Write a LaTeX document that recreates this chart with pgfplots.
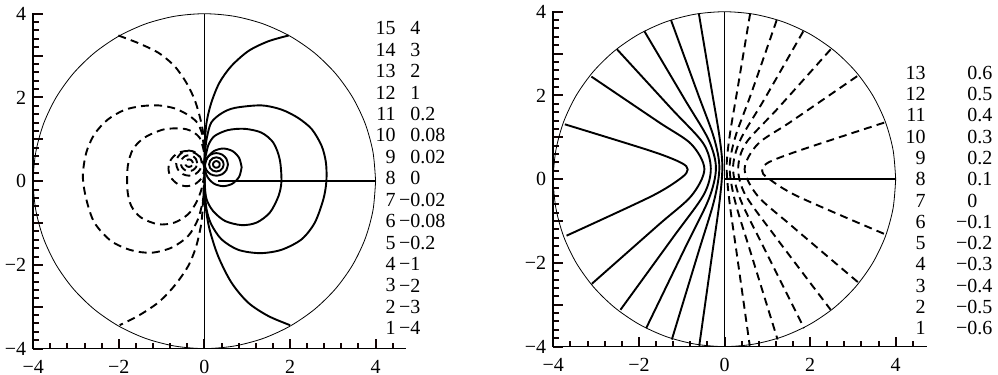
\documentclass[border=0pt]{standalone}
\usepackage{fontspec}
\setmainfont{Liberation Serif}
\usepackage{pgfplots}
\pgfplotsset{compat=1.18}
\definecolor{tickc}{rgb}{0.08,0.02,0.02}
\pgfplotsset{
 myaxis/.style={
  x=21.4pt, y=20.93pt,
  xmin=-4, xmax=4.7, ymin=-4, ymax=4,
  axis line style={draw=none},
  xtick={-4,-2,0,2,4}, ytick={-4,-2,0,2,4},
  xticklabels={−4,−2,0,2,4}, yticklabels={−4,−2,0,2,4},
  minor xtick={-3.6,-3.2,-2.8,-2.4,-1.6,-1.2,-0.8,-0.4,0.4,0.8,1.2,1.6,2.4,2.8,3.2,3.6,4.4},
  minor ytick={-3.8,-3.6,-3.4,-3.2,-2.8,-2.6,-2.4,-2.2,-1.8,-1.6,-1.4,-1.2,-0.8,-0.6,-0.4,-0.2,0.2,0.4,0.6,0.8,1.2,1.4,1.6,1.8,2.2,2.4,2.6,2.8,3.2,3.4,3.6,3.8},
  xtick pos=left, ytick pos=left,
  tick align=inside,
  major tick length=5pt, minor tick length=2.8pt,
  xtick style={draw=tickc, line width=1.0pt},
  ytick style={draw=tickc, line width=1.0pt},
  extra y ticks={-3,-1,1,3}, extra y tick labels={},
  tick label style={font=\fontsize{10}{12}\selectfont},
  xticklabel style={yshift=-2.2pt},
  clip=false,
  anchor=south west,
 },
 sol/.style={black, line width=0.95pt, smooth},
 das/.style={black, line width=0.95pt, smooth, dash pattern=on 4pt off 2.6pt},
 thinc/.style={black, line width=0.4pt, smooth},
 straight/.style={black, line width=0.7pt},
}
\begin{document}
\fontsize{10}{12}\selectfont
\begin{tikzpicture}
%%%%%%%%%%%%%%%%%%%%%%%%%% LEFT
\begin{axis}[myaxis, at={(16.6pt,13.2pt)}]
\draw[black, line width=0.9pt, line cap=rect] (axis cs:-4,4) -- (axis cs:-4,-4) -- (axis cs:4.7,-4);
\addplot[thinc] coordinates {(4,0) (3.939,0.695) (3.759,1.368) (3.464,2) (3.064,2.571) (2.571,3.064) (2,3.464) (1.368,3.759) (0.695,3.939) (0,4) (-0.695,3.939) (-1.368,3.759) (-2,3.464) (-2.571,3.064) (-3.064,2.571) (-3.464,2) (-3.759,1.368) (-3.939,0.695) (-4,0) (-3.939,-0.695) (-3.759,-1.368) (-3.464,-2) (-3.064,-2.571) (-2.571,-3.064) (-2,-3.464) (-1.368,-3.759) (-0.695,-3.939) (0,-4) (0.695,-3.939) (1.368,-3.759) (2,-3.464) (2.571,-3.064) (3.064,-2.571) (3.464,-2) (3.759,-1.368) (3.939,-0.695) (4,0)};
\addplot[straight, line width=0.85pt] coordinates {(0,-4) (0,4)};
\addplot[straight] coordinates {(0.32,0) (4,0)};
% solid contours
\addplot[sol] coordinates {(1.97,3.48) (1.49,3.34) (1.03,3.11) (0.63,2.75) (0.35,2.35) (0.16,1.87) (0.05,1.40) (0.01,0.9) (0,0.45)};
\addplot[sol] coordinates {(0,0.3) (0.005,-0.2) (0.03,-0.62) (0.12,-1.15) (0.32,-1.79) (0.63,-2.42) (1.02,-2.90) (1.49,-3.22) (2.0,-3.44)};
\addplot[sol] coordinates {(0,0.45) (0.02,0.75) (0.06,1.05) (0.16,1.40) (0.40,1.62) (0.71,1.75) (1.33,1.81) (1.80,1.71) (2.19,1.51) (2.51,1.24) (2.74,0.84) (2.84,0.44) (2.85,0.0) (2.78,-0.43) (2.58,-0.99) (2.27,-1.39) (1.80,-1.64) (1.30,-1.72) (0.79,-1.64) (0.40,-1.39) (0.16,-1.03) (0.05,-0.67) (0.01,-0.2) (0,0.3)};
\addplot[sol] coordinates {(0,0.45) (0.04,0.65) (0.10,0.88) (0.24,1.08) (0.55,1.22) (0.94,1.25) (1.33,1.16) (1.61,0.92) (1.76,0.52) (1.80,0.0) (1.73,-0.36) (1.53,-0.75) (1.22,-0.99) (0.87,-1.05) (0.48,-0.95) (0.20,-0.71) (0.05,-0.43) (0.01,-0.1) (0,0.3)};
\addplot[sol] coordinates {(0.87,0.33) (0.812,0.555) (0.655,0.72) (0.44,0.78) (0.225,0.72) (0.068,0.555) (0.01,0.33) (0.068,0.105) (0.225,-0.06) (0.44,-0.12) (0.655,-0.06) (0.812,0.105) (0.87,0.33)};
\addplot[sol] coordinates {(0.55,0.40) (0.514,0.535) (0.415,0.634) (0.28,0.67) (0.145,0.634) (0.046,0.535) (0.01,0.40) (0.046,0.265) (0.145,0.166) (0.28,0.13) (0.415,0.166) (0.514,0.265) (0.55,0.40)};
\addplot[sol] coordinates {(0.45,0.40) (0.427,0.485) (0.365,0.547) (0.28,0.57) (0.195,0.547) (0.133,0.485) (0.11,0.40) (0.133,0.315) (0.195,0.253) (0.28,0.23) (0.365,0.253) (0.427,0.315) (0.45,0.40)};
\addplot[sol] coordinates {(0.36,0.40) (0.349,0.44) (0.32,0.469) (0.28,0.48) (0.24,0.469) (0.211,0.44) (0.20,0.40) (0.211,0.36) (0.24,0.331) (0.28,0.32) (0.32,0.331) (0.349,0.36) (0.36,0.40)};
% dashed contours
\addplot[das] coordinates {(-2.01,3.48) (-1.55,3.30) (-1.08,3.07) (-0.70,2.75) (-0.42,2.35) (-0.23,1.95) (-0.11,1.55) (-0.03,1.16) (-0.01,0.8)};
\addplot[das] coordinates {(-0.01,-0.1) (-0.03,-0.43) (-0.07,-0.99) (-0.19,-1.55) (-0.38,-2.03) (-0.70,-2.50) (-1.08,-2.90) (-1.55,-3.22) (-1.98,-3.44)};
\addplot[das] coordinates {(-0.01,0.8) (-0.06,1.15) (-0.17,1.40) (-0.38,1.58) (-0.70,1.74) (-1.08,1.81) (-1.48,1.79) (-1.87,1.70) (-2.26,1.47) (-2.57,1.12) (-2.76,0.68) (-2.84,0.12) (-2.76,-0.43) (-2.57,-0.99) (-2.18,-1.43) (-1.71,-1.65) (-1.24,-1.71) (-0.77,-1.59) (-0.38,-1.31) (-0.15,-0.91) (-0.03,-0.43) (-0.01,-0.1)};
\addplot[das] coordinates {(-0.01,0.7) (-0.12,1.05) (-0.42,1.24) (-0.93,1.24) (-1.40,1.04) (-1.67,0.76) (-1.79,0.36) (-1.80,-0.20) (-1.71,-0.59) (-1.48,-0.87) (-1.08,-1.03) (-0.70,-0.99) (-0.38,-0.79) (-0.19,-0.51) (-0.07,-0.2) (-0.01,0.1)};
\addplot[das] coordinates {(0.0,0.30) (-0.056,0.51) (-0.21,0.664) (-0.42,0.72) (-0.63,0.664) (-0.784,0.51) (-0.84,0.30) (-0.784,0.09) (-0.63,-0.064) (-0.42,-0.12) (-0.21,-0.064) (-0.056,0.09) (0.0,0.30)};
\addplot[das] coordinates {(-0.06,0.43) (-0.10,0.58) (-0.21,0.69) (-0.36,0.73) (-0.51,0.69) (-0.62,0.58) (-0.66,0.43) (-0.62,0.28) (-0.51,0.17) (-0.36,0.13) (-0.21,0.17) (-0.10,0.28) (-0.06,0.43)};
\addplot[das] coordinates {(-0.17,0.43) (-0.195,0.525) (-0.265,0.595) (-0.36,0.62) (-0.455,0.595) (-0.525,0.525) (-0.55,0.43) (-0.525,0.335) (-0.455,0.265) (-0.36,0.24) (-0.265,0.265) (-0.195,0.335) (-0.17,0.43)};
\addplot[das] coordinates {(-0.27,0.43) (-0.282,0.475) (-0.315,0.508) (-0.36,0.52) (-0.405,0.508) (-0.438,0.475) (-0.45,0.43) (-0.438,0.385) (-0.405,0.352) (-0.36,0.34) (-0.315,0.352) (-0.282,0.385) (-0.27,0.43)};
\end{axis}
%%%%%%%%%%%%%%%%%%%%%%%%%% RIGHT
\begin{axis}[myaxis, at={(276.65pt,14.2pt)}]
\draw[black, line width=0.9pt, line cap=rect] (axis cs:-4,4) -- (axis cs:-4,-4) -- (axis cs:4.7,-4);
\addplot[thinc] coordinates {(4,0) (3.939,0.695) (3.759,1.368) (3.464,2) (3.064,2.571) (2.571,3.064) (2,3.464) (1.368,3.759) (0.695,3.939) (0,4) (-0.695,3.939) (-1.368,3.759) (-2,3.464) (-2.571,3.064) (-3.064,2.571) (-3.464,2) (-3.759,1.368) (-3.939,0.695) (-4,0) (-3.939,-0.695) (-3.759,-1.368) (-3.464,-2) (-3.064,-2.571) (-2.571,-3.064) (-2,-3.464) (-1.368,-3.759) (-0.695,-3.939) (0,-4) (0.695,-3.939) (1.368,-3.759) (2,-3.464) (2.571,-3.064) (3.064,-2.571) (3.464,-2) (3.759,-1.368) (3.939,-0.695) (4,0)};
\addplot[straight, line width=0.85pt] coordinates {(0,-4) (0,4)};
\addplot[straight] coordinates {(0,0) (4,0)};
% solid
\addplot[sol] coordinates {(-0.60,3.96) (-0.30,2.13) (-0.12,1.03) (-0.05,0.29) (-0.118,-0.556) (-0.295,-1.84) (-0.59,-3.98)};
\addplot[sol] coordinates {(-1.25,3.80) (-0.625,2.05) (-0.25,1.0) (-0.12,0.28) (-0.246,-0.526) (-0.615,-1.765) (-1.23,-3.83)};
\addplot[sol] coordinates {(-1.87,3.53) (-0.935,1.915) (-0.374,0.946) (-0.20,0.27) (-0.366,-0.472) (-0.915,-1.63) (-1.83,-3.56)};
\addplot[sol] coordinates {(-2.51,3.10) (-1.255,1.70) (-0.50,0.86) (-0.32,0.25) (-0.49,-0.38) (-1.215,-1.41) (-2.43,-3.12)};
\addplot[sol] coordinates {(-3.11,2.45) (-1.555,1.375) (-0.78,0.84) (-0.47,0.24) (-0.775,-0.40) (-1.55,-1.10) (-3.10,-2.50)};
\addplot[sol] coordinates {(-3.73,1.31) (-1.71,0.67) (-1.01,0.39) (-0.86,0.23) (-1.01,0.03) (-1.71,-0.41) (-3.69,-1.35)};
% dashed
\addplot[das] coordinates {(0.60,3.96) (0.30,2.13) (0.12,1.03) (0.05,0.29) (0.118,-0.556) (0.295,-1.84) (0.59,-3.98)};
\addplot[das] coordinates {(1.22,3.80) (0.625,2.05) (0.25,1.0) (0.12,0.28) (0.246,-0.526) (0.615,-1.765) (1.24,-3.83)};
\addplot[das] coordinates {(1.84,3.53) (0.935,1.915) (0.374,0.946) (0.20,0.27) (0.366,-0.472) (0.915,-1.63) (1.86,-3.56)};
\addplot[das] coordinates {(2.48,3.10) (1.255,1.70) (0.50,0.86) (0.32,0.25) (0.49,-0.38) (1.215,-1.41) (2.48,-3.12)};
\addplot[das] coordinates {(3.10,2.46) (1.555,1.375) (0.78,0.84) (0.47,0.24) (0.775,-0.40) (1.55,-1.10) (3.14,-2.48)};
\addplot[das] coordinates {(3.73,1.35) (1.71,0.67) (1.01,0.39) (0.88,0.20) (1.01,0.03) (1.71,-0.41) (3.76,-1.32)};
\end{axis}
%%%%%%%%%%%%%%%%%%%%%%%%%% level tables
\foreach \n/\v [count=\i from 0] in {1/\llap{−}4,2/\llap{−}3,3/\llap{−}2,4/\llap{−}1,5/\llap{−}0.2,6/\llap{−}0.08,7/\llap{−}0.02,8/0,9/0.02,10/0.08,11/0.2,12/1,13/2,14/3,15/4}{
  \node[anchor=east, inner sep=0pt] at (198pt, 23.35pt+\i*10.715pt) {\n};
  \node[anchor=west, inner sep=0pt] at (205pt, 23.35pt+\i*10.715pt) {\v};
}
\foreach \n/\v [count=\i from 0] in {1/\llap{−}0.6,2/\llap{−}0.5,3/\llap{−}0.4,4/\llap{−}0.3,5/\llap{−}0.2,6/\llap{−}0.1,7/0,8/0.1,9/0.2,10/0.3,11/0.4,12/0.5,13/0.6}{
  \node[anchor=east, inner sep=0pt] at (463pt, 23.35pt+\i*10.65pt) {\n};
  \node[anchor=west, inner sep=0pt] at (483.5pt, 23.35pt+\i*10.65pt) {\v};
}
\pgfresetboundingbox
\useasboundingbox (0,0) rectangle (499pt,187.5pt);
\end{tikzpicture}
\end{document}
